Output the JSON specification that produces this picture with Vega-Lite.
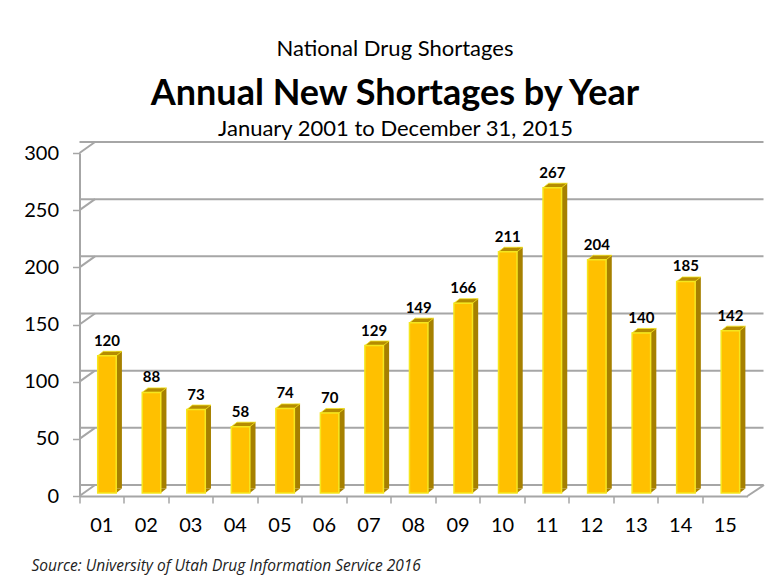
{
"$schema":"https://vega.github.io/schema/vega-lite/v6.json",
"width":668,"height":343,
"autosize":"none",
"padding":{"left":79.5,"top":153,"right":20.5,"bottom":88},
"background":"white",
"config":{"view":{"stroke":null},"font":"Lato"},
"title":{"text":"National Drug Shortages","subtitle":"Annual New Shortages by Year","anchor":"middle","frame":"group","dx":-18.5,"offset":4,"font":"Lato","fontSize":22,"fontWeight":"normal","color":"#000","subtitleFont":"Lato","subtitleFontSize":36,"subtitleFontWeight":"bold","subtitleColor":"#000","subtitlePadding":16},
"datasets":{"bars":[
{"year":"01","value":120},{"year":"02","value":88},{"year":"03","value":73},{"year":"04","value":58},{"year":"05","value":74},
{"year":"06","value":70},{"year":"07","value":129},{"year":"08","value":149},{"year":"09","value":166},{"year":"10","value":211},
{"year":"11","value":267},{"year":"12","value":204},{"year":"13","value":140},{"year":"14","value":185},{"year":"15","value":142}],
"ticks":[{"level":0},{"level":50},{"level":100},{"level":150},{"level":200},{"level":250},{"level":300}]},
"resolve":{"axis":{"x":"independent"}},
"layer":[
{"data":{"name":"ticks"},
 "mark":{"type":"rule","color":"#a6a6a6","strokeWidth":2,"xOffset":16,"yOffset":-11},
 "encoding":{"y":{"field":"level","type":"quantitative","scale":{"domain":[0,300]},
   "axis":{"values":[0,50,100,150,200,250,300],"title":null,"grid":false,"domainColor":"#a6a6a6","domainWidth":2,"tickColor":"#a6a6a6","tickWidth":1.5,"tickSize":7,"labelFontSize":20,"labelColor":"#000","labelPadding":14,"labelFont":"Lato"}}}},
{"data":{"name":"ticks"},
 "mark":{"type":"point","shape":"M0 0L1.55 -1.1","filled":false,"size":400,"color":"#a6a6a6","strokeWidth":2,"opacity":1},
 "encoding":{"x":{"datum":"01","type":"nominal","bandPosition":0,
   "scale":{"domain":["01","02","03","04","05","06","07","08","09","10","11","12","13","14","15"],"paddingInner":0,"paddingOuter":0},
   "axis":{"orient":"bottom","title":"Source: University of Utah Drug Information Service 2016","titleFontSize":15.5,"titleFontStyle":"italic","titleFontWeight":"normal","titleFont":"Open Sans","titleColor":"#222","titleAlign":"left","titleAnchor":"start","titleX":-48.5,"titleY":62,
     "bandPosition":0,"labelAngle":0,"labelFontSize":20,"labelColor":"#000","labelPadding":12,"labelFont":"Lato","domainColor":"#a6a6a6","domainWidth":2,"tickColor":"#a6a6a6","tickWidth":1.5,"tickSize":7}},
  "y":{"field":"level","type":"quantitative"}}},
{"data":{"values":[{"level":0}]},
 "mark":{"type":"point","shape":"M0 0L1.65 -1.1","filled":false,"size":400,"color":"#a6a6a6","strokeWidth":2,"opacity":1},
 "encoding":{"x":{"datum":"15","type":"nominal","bandPosition":1,
   "axis":{"orient":"top","title":"January 2001 to December 31, 2015","titleFontSize":22,"titleFontWeight":"normal","titleFont":"Lato","titleColor":"#000","titleAnchor":"middle","titleX":315.5,"titleY":-13,"labels":false,"ticks":false,"domain":false}},
  "y":{"field":"level","type":"quantitative"}}},
{"data":{"name":"bars"},
 "mark":{"type":"bar","width":5.7,"color":"#a68000","xOffset":17.3,"yOffset":-7.5},
 "encoding":{"x":{"field":"year","type":"nominal","axis":null},"y":{"field":"value","type":"quantitative"}}},
{"data":{"name":"bars"},
 "mark":{"type":"point","shape":"M0.925 0L1.495 -0.45L0.925 -0.45Z","filled":true,"size":400,"color":"#a68000","opacity":1,"xOffset":5.2,"yOffset":-3},
 "encoding":{"x":{"field":"year","type":"nominal","axis":null},"y":{"datum":0,"type":"quantitative"}}},
{"data":{"name":"bars"},
 "mark":{"type":"point","shape":"M-0.925 0L0.925 0L1.495 -0.45L-0.355 -0.45Z","filled":true,"size":400,"color":"#b58c00","stroke":"#f5e61e","strokeWidth":0.8,"opacity":1,"xOffset":5.2,"yOffset":-3},
 "encoding":{"x":{"field":"year","type":"nominal","axis":null},"y":{"field":"value","type":"quantitative"}}},
{"data":{"name":"bars"},
 "mark":{"type":"bar","width":18.5,"fill":"#ffc000","stroke":"#f5e61e","strokeWidth":1.5,"xOffset":5.2,"yOffset":-3},
 "encoding":{"x":{"field":"year","type":"nominal","axis":null},"y":{"field":"value","type":"quantitative"}}},
{"data":{"name":"bars"},
 "mark":{"type":"text","font":"Lato","fontSize":15,"fontWeight":"bold","color":"#000","baseline":"alphabetic","xOffset":5.2,"yOffset":-13},
 "encoding":{"x":{"field":"year","type":"nominal","axis":null},"y":{"field":"value","type":"quantitative"},"text":{"field":"value","type":"quantitative"}}}
]
}
